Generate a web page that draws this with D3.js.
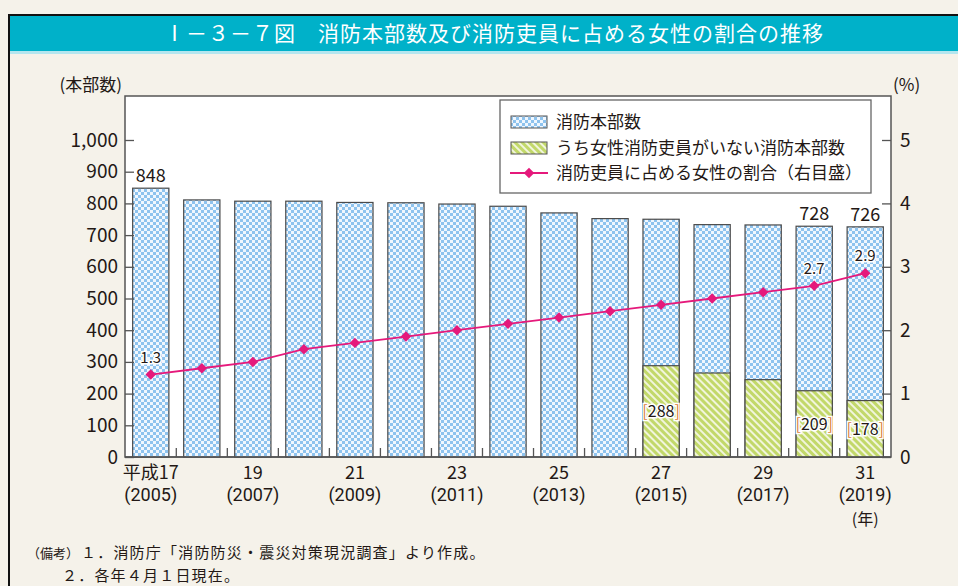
<!DOCTYPE html>
<html>
<head>
<meta charset="utf-8">
<script src="https://cdn.jsdelivr.net/npm/d3@7"></script>
<style>
body { margin: 0; background: #f5f2ea; }
svg text { font-family: "Noto Sans CJK JP", "Noto Sans", sans-serif; fill: #231815; }
</style>
</head>
<body>
<div id="chart-area"></div>
<script>

const years = [2005, 2006, 2007, 2008, 2009, 2010, 2011, 2012, 2013, 2014, 2015, 2016, 2017, 2018, 2019];
const honbu = [848, 811, 807, 807, 803, 802, 798, 791, 770, 752, 750, 733, 732, 728, 726];
const noWomen = [null, null, null, null, null, null, null, null, null, null, 288, 265, 244, 209, 178];
const ratio = [1.3, 1.4, 1.5, 1.7, 1.8, 1.9, 2.0, 2.1, 2.2, 2.3, 2.4, 2.5, 2.6, 2.7, 2.9];

const tickYears = [2005, 2007, 2009, 2011, 2013, 2015, 2017, 2019];
const eraLabels = ["平成17", "19", "21", "23", "25", "27", "29", "31"];

// 数値ラベルを付ける年
const honbuLabelYears = [2005, 2018, 2019];
const noWomenLabelYears = [2015, 2018, 2019];
const ratioLabelYears = [2005, 2018, 2019];

const width = 958, height = 586;
const margin = {top: 96, right: 891, bottom: 457, left: 125};

var svg = d3.select("#chart-area").append("svg")
	.attr("width", width)
	.attr("height", height);

var defs = svg.append("defs");

// 水色の市松模様
var pBlue = defs.append("pattern")
	.attr("id", "checker")
	.attr("patternUnits", "userSpaceOnUse")
	.attr("width", 6).attr("height", 6);
pBlue.append("rect").attr("width", 6).attr("height", 6).attr("fill", "#8ec3ee");
pBlue.append("rect").attr("x", 0).attr("y", 0).attr("width", 3).attr("height", 3).attr("fill", "#f0f7fe");
pBlue.append("rect").attr("x", 3).attr("y", 3).attr("width", 3).attr("height", 3).attr("fill", "#f0f7fe");

// 黄緑の斜線
var pGreen = defs.append("pattern")
	.attr("id", "stripe")
	.attr("patternUnits", "userSpaceOnUse")
	.attr("width", 5).attr("height", 5)
	.attr("patternTransform", "rotate(-45)");
pGreen.append("rect").attr("width", 5).attr("height", 5).attr("fill", "#c2d86a");
pGreen.append("rect").attr("x", 0).attr("width", 2).attr("height", 5).attr("fill", "#f1f5dc");

// 外枠とタイトル
svg.append("rect")
	.attr("x", 9).attr("y", 16)
	.attr("width", width).attr("height", 36)
	.attr("fill", "#00b1c9");
svg.append("rect")
	.attr("x", 9).attr("y", 51)
	.attr("width", width).attr("height", 3)
	.attr("fill", "#b4e6ef");
svg.append("path")
	.attr("d", `M9,${height} V15 H${width}`)
	.attr("fill", "none")
	.attr("stroke", "#111")
	.attr("stroke-width", 2);
svg.append("text")
	.attr("x", 494).attr("y", 41)
	.attr("text-anchor", "middle")
	.style("font-size", "21px")
	.style("letter-spacing", "1px")
	.style("fill", "#fff")
	.text("Ⅰ－３－７図　消防本部数及び消防吏員に占める女性の割合の推移");

// 比例尺
var x = d3.scaleBand()
	.domain(years)
	.range([margin.left, margin.right])
	.paddingInner(0.29)
	.paddingOuter(0.15);

var y = d3.scaleLinear()
	.domain([0, 1000])
	.range([margin.bottom, 140]);

var y2 = d3.scaleLinear()
	.domain([0, 5])
	.range([margin.bottom, 140]);

// 描画エリア
svg.append("rect")
	.attr("x", margin.left).attr("y", margin.top)
	.attr("width", margin.right - margin.left)
	.attr("height", margin.bottom - margin.top)
	.attr("fill", "#fff")
	.attr("stroke", "#555")
	.attr("stroke-width", 1.5);

// 消防本部数
svg.selectAll(".bar1")
	.data(years)
	.enter().append("rect")
	.attr("class", "bar1")
	.attr("x", d => x(d))
	.attr("y", (d, i) => y(honbu[i]))
	.attr("width", x.bandwidth())
	.attr("height", (d, i) => y(0) - y(honbu[i]))
	.attr("fill", "url(#checker)")
	.attr("stroke", "#4a4a4a")
	.attr("stroke-width", 1.2);

// うち女性消防吏員がいない消防本部数
var greenData = years.map((d, i) => ({year: d, v: noWomen[i]})).filter(d => d.v != null);
svg.selectAll(".bar2")
	.data(greenData)
	.enter().append("rect")
	.attr("class", "bar2")
	.attr("x", d => x(d.year))
	.attr("y", d => y(d.v))
	.attr("width", x.bandwidth())
	.attr("height", d => y(0) - y(d.v))
	.attr("fill", "url(#stripe)")
	.attr("stroke", "#4a4a4a")
	.attr("stroke-width", 1.2);

// x軸の目盛り（棒の間）
svg.selectAll(".xtick")
	.data(years.slice(0, -1))
	.enter().append("line")
	.attr("class", "xtick")
	.attr("x1", d => x(d) + x.bandwidth() + (x.step() - x.bandwidth()) / 2)
	.attr("x2", d => x(d) + x.bandwidth() + (x.step() - x.bandwidth()) / 2)
	.attr("y1", margin.bottom)
	.attr("y2", margin.bottom - 9)
	.attr("stroke", "#555")
	.attr("stroke-width", 1.3);

svg.append("line")
	.attr("x1", margin.left).attr("x2", margin.right)
	.attr("y1", margin.bottom).attr("y2", margin.bottom)
	.attr("stroke", "#555")
	.attr("stroke-width", 1.5);

// 左のy軸
var yAxis = svg.append("g")
	.attr("transform", `translate(${margin.left},0)`)
	.call(d3.axisLeft(y).ticks(10).tickFormat(d3.format(",")).tickSize(-9).tickPadding(7));
yAxis.select(".domain").remove();
yAxis.selectAll("line").attr("stroke", "#555").attr("stroke-width", 1.3);
yAxis.selectAll("text")
	.style("font-size", "19px")
	.style("font-family", "'Noto Sans CJK JP', sans-serif")
	.attr("fill", "#231815");

// 右のy軸
var yAxis2 = svg.append("g")
	.attr("transform", `translate(${margin.right},0)`)
	.call(d3.axisRight(y2).ticks(5).tickSize(-9).tickPadding(9));
yAxis2.select(".domain").remove();
yAxis2.selectAll("line").attr("stroke", "#555").attr("stroke-width", 1.3);
yAxis2.selectAll("text")
	.style("font-size", "19px")
	.style("font-family", "'Noto Sans CJK JP', sans-serif")
	.attr("fill", "#231815");

svg.append("text")
	.attr("x", 122).attr("y", 91)
	.attr("text-anchor", "end")
	.style("font-size", "17px")
	.text("(本部数)");
svg.append("text")
	.attr("x", 893).attr("y", 91)
	.style("font-size", "17px")
	.text("(%)");

// x軸ラベル（和暦）
svg.selectAll(".xlabel")
	.data(tickYears)
	.enter().append("text")
	.attr("class", "xlabel")
	.attr("x", d => x(d) + x.bandwidth() / 2)
	.attr("y", 479)
	.attr("text-anchor", "middle")
	.style("font-size", "18px")
	.text((d, i) => eraLabels[i]);
// 西暦
svg.selectAll(".xlabel2")
	.data(tickYears)
	.enter().append("text")
	.attr("class", "xlabel2")
	.attr("x", d => x(d) + x.bandwidth() / 2)
	.attr("y", 501)
	.attr("text-anchor", "middle")
	.style("font-family", "Roboto, sans-serif")
	.style("font-size", "18px")
	.text(d => `(${d})`);
svg.append("text")
	.attr("x", x(2019) + x.bandwidth() / 2)
	.attr("y", 525)
	.attr("text-anchor", "middle")
	.style("font-size", "16px")
	.text("(年)");

// 割合の折線
var line = d3.line()
	.x((d, i) => x(years[i]) + x.bandwidth() / 2)
	.y(d => y2(d));

svg.append("path")
	.datum(ratio)
	.attr("fill", "none")
	.attr("stroke", "#e5197b")
	.attr("stroke-width", 1.8)
	.attr("d", line);

svg.selectAll(".dot")
	.data(ratio)
	.enter().append("path")
	.attr("class", "dot")
	.attr("transform", (d, i) => `translate(${x(years[i]) + x.bandwidth() / 2},${y2(d)})`)
	.attr("d", d3.symbol(d3.symbolDiamond2, 70))
	.attr("fill", "#e5197b");

// 数値ラベル
svg.selectAll(".hlabel")
	.data(honbuLabelYears)
	.enter().append("text")
	.attr("class", "hlabel")
	.attr("x", d => x(d) + x.bandwidth() / 2)
	.attr("y", d => y(honbu[years.indexOf(d)]) - 6)
	.attr("text-anchor", "middle")
	.style("font-size", "18px")
	.text(d => honbu[years.indexOf(d)]);

var gl = svg.selectAll(".glabel")
	.data(noWomenLabelYears)
	.enter().append("text")
	.attr("class", "glabel")
	.attr("x", d => x(d) + x.bandwidth() / 2)
	.attr("y", d => y(noWomen[years.indexOf(d)] / 2) + 6)
	.attr("text-anchor", "middle")
	.style("font-size", "16px")
	.style("paint-order", "stroke")
	.style("stroke", "#fff")
	.style("stroke-width", "3px");
gl.append("tspan").style("fill", "#d9813a").text("[");
gl.append("tspan").text(d => noWomen[years.indexOf(d)]);
gl.append("tspan").style("fill", "#d9813a").text("]");

svg.selectAll(".rlabel")
	.data(ratioLabelYears)
	.enter().append("text")
	.attr("class", "rlabel")
	.attr("x", d => x(d) + x.bandwidth() / 2)
	.attr("y", d => y2(ratio[years.indexOf(d)]) - 12)
	.attr("text-anchor", "middle")
	.style("font-size", "15px")
	.style("paint-order", "stroke")
	.style("stroke", "#fff")
	.style("stroke-width", "3px")
	.text(d => ratio[years.indexOf(d)].toFixed(1));

// 凡例
var legend = svg.append("g").attr("class", "legend");
legend.append("rect")
	.attr("x", 500).attr("y", 100)
	.attr("width", 371).attr("height", 93)
	.attr("fill", "#fff")
	.attr("stroke", "#666")
	.attr("stroke-width", 1.3);
legend.append("rect")
	.attr("x", 511).attr("y", 116)
	.attr("width", 36).attr("height", 12)
	.attr("fill", "url(#checker)")
	.attr("stroke", "#555");
legend.append("rect")
	.attr("x", 511).attr("y", 142)
	.attr("width", 36).attr("height", 12)
	.attr("fill", "url(#stripe)")
	.attr("stroke", "#555");
legend.append("line")
	.attr("x1", 510).attr("x2", 548)
	.attr("y1", 173).attr("y2", 173)
	.attr("stroke", "#e5197b")
	.attr("stroke-width", 1.8);
legend.append("path")
	.attr("transform", "translate(529,173)")
	.attr("d", d3.symbol(d3.symbolDiamond2, 70))
	.attr("fill", "#e5197b");
const legendTexts = ["消防本部数", "うち女性消防吏員がいない消防本部数", "消防吏員に占める女性の割合（右目盛）"];
legend.selectAll(".ltext")
	.data(legendTexts)
	.enter().append("text")
	.attr("class", "ltext")
	.attr("x", 556)
	.attr("y", (d, i) => 128 + i * 25.5)
	.style("font-size", "17px")
	.text(d => d);

// 備考
svg.append("text")
	.attr("x", 27).attr("y", 558)
	.style("font-size", "13px")
	.text("（備考）");
svg.append("text")
	.attr("x", 81).attr("y", 558)
	.style("font-size", "15px")
	.style("letter-spacing", "1.2px")
	.text("１．消防庁「消防防災・震災対策現況調査」より作成。");
svg.append("text")
	.attr("x", 62).attr("y", 581)
	.style("font-size", "15px")
	.style("letter-spacing", "1.2px")
	.text("２．各年４月１日現在。");

</script>
</body>
</html>
